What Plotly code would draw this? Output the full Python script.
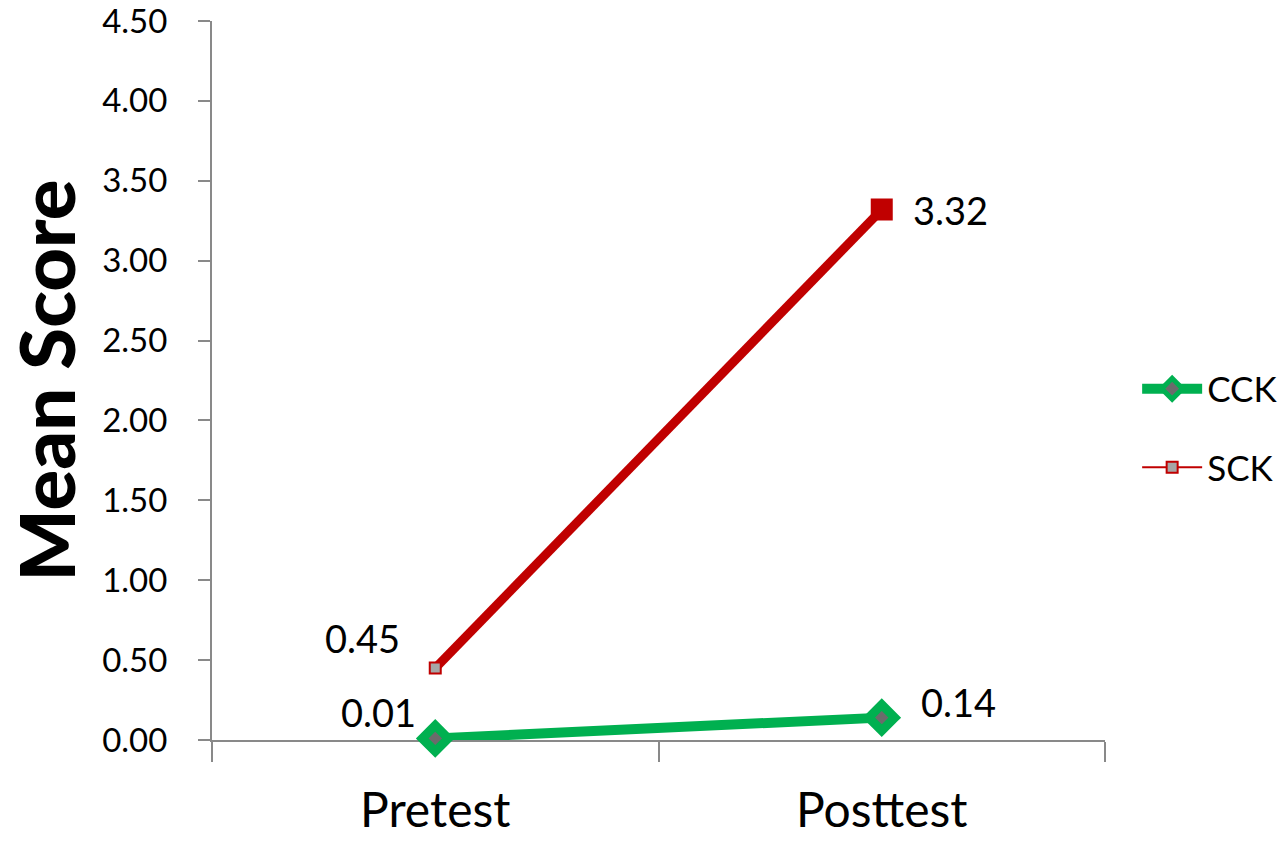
import plotly.graph_objects as go

categories = ["Pretest", "Posttest"]
cck_values = [0.01, 0.14]
sck_values = [0.45, 3.32]
cck_labels = ["0.01", "0.14"]
sck_labels = ["0.45", "3.32"]
y_tickvals = [0, 0.5, 1, 1.5, 2, 2.5, 3, 3.5, 4, 4.5]
y_ticktext = ["0.00", "0.50", "1.00", "1.50", "2.00", "2.50", "3.00", "3.50", "4.00", "4.50"]

FONT = "Lato, 'Open Sans', sans-serif"
GREEN = "#00B050"
RED = "#C00000"
AXIS = "#898989"

fig = go.Figure()
fig.add_trace(go.Scatter(
    x=categories, y=cck_values, name="CCK", mode="lines+markers",
    line=dict(color=GREEN, width=10),
    marker=dict(symbol="diamond", size=20, color="#6b6b6b", opacity=1,
                line=dict(color=GREEN, width=9)),
    showlegend=False, cliponaxis=False,
))
fig.add_trace(go.Scatter(
    x=categories, y=sck_values, name="SCK", mode="lines+markers",
    line=dict(color=RED, width=9),
    marker=dict(symbol="square", size=[11, 14], color=["#a6a6a6", RED],
                opacity=1, line=dict(color=RED, width=[2, 8])),
    showlegend=False, cliponaxis=False,
))
# legend entries (styled like the original legend keys)
fig.add_trace(go.Scatter(
    x=[None], y=[None], name="CCK", mode="lines+markers",
    line=dict(color=GREEN, width=10),
    marker=dict(symbol="diamond", size=16, color="#6b6b6b", opacity=1,
                line=dict(color=GREEN, width=5)),
    legendgroup="a",
))
fig.add_trace(go.Scatter(
    x=[None], y=[None], name="SCK", mode="lines+markers",
    line=dict(color=RED, width=2),
    marker=dict(symbol="square", size=11, color="#a6a6a6", opacity=1,
                line=dict(color=RED, width=2)),
    legendgroup="b",
))

# data labels
label_specs = [
    (categories[0], cck_values[0], cck_labels[0], "right", -17, 26),
    (categories[1], cck_values[1], cck_labels[1], "left", 37, 16),
    (categories[0], sck_values[0], sck_labels[0], "right", -33, 30),
    (categories[1], sck_values[1], sck_labels[1], "left", 29, 0),
]
for x, y, t, anchor, xs, ys in label_specs:
    fig.add_annotation(x=x, y=y, text=t, showarrow=False, xanchor=anchor,
                       yanchor="middle", xshift=xs, yshift=ys,
                       font=dict(family=FONT, size=38, color="black"))

fig.update_layout(
    width=1285, height=842,
    margin=dict(l=212, r=180, t=21, b=102, autoexpand=False),
    plot_bgcolor="white", paper_bgcolor="white",
    font=dict(family=FONT, color="black"),
    showlegend=True,
    legend=dict(x=1.036, y=0.434, xanchor="left", yanchor="middle",
                font=dict(family=FONT, size=35), tracegroupgap=30,
                itemwidth=60, bgcolor="rgba(0,0,0,0)"),
    xaxis=dict(type="category", range=[-0.5, 1.5], tickson="boundaries",
               ticks="outside", ticklen=20, tickcolor=AXIS, tickwidth=2,
               showline=True, linecolor=AXIS, linewidth=2, showgrid=False,
               tickfont=dict(family=FONT, size=48), zeroline=False,
               ticklabelstandoff=27, automargin=False, layer="below traces"),
    yaxis=dict(range=[0, 4.5], tickvals=y_tickvals, ticktext=y_ticktext,
               ticks="outside", ticklen=12, tickcolor=AXIS, tickwidth=2,
               showline=True, linecolor=AXIS, linewidth=2, showgrid=False,
               zeroline=False, tickfont=dict(family=FONT, size=33),
               ticklabelstandoff=24, automargin=False,
               ticklabeloverflow="allow", layer="below traces",
               title=dict(text="Mean Score",
                          font=dict(family=FONT, size=76, weight=900),
                          standoff=28)),
)

fig.write_html("out.html")
